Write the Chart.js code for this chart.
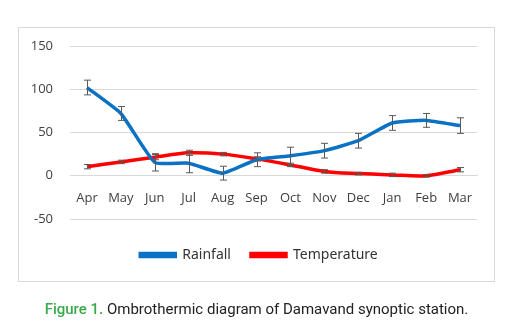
<!DOCTYPE html>
<html>
<head>
<meta charset="utf-8">
<script src="https://cdn.jsdelivr.net/npm/chart.js@4"></script>
<style>
  body { margin: 0; background: #fff; width: 529px; height: 336px; position: relative; overflow: hidden; }
  #myChart { position: absolute; left: 19px; top: 28px; }
  #box { position: absolute; left: 18px; top: 27px; width: 475px; height: 253px; border: 1px solid #d9d9d9; }
  #caption { position: absolute; left: 0; top: 300px; width: 513px; text-align: center;
             font: 15px Roboto, sans-serif; color: #222; line-height: 18px; }
  #caption b { color: #3aaa4a; font-weight: 500; }
</style>
</head>
<body>
<canvas id="myChart" width="475" height="280"></canvas>
<div id="box"></div>
<div id="caption"><b>Figure 1.</b> Ombrothermic diagram of Damavand synoptic station.</div>
<script>
  var Months = ['Apr', 'May', 'Jun', 'Jul', 'Aug', 'Sep', 'Oct', 'Nov', 'Dec', 'Jan', 'Feb', 'Mar'];
  var Rainfall = [102, 72, 15.5, 14.5, 3, 18.5, 23, 29, 40.5, 61, 64, 58];
  var RainErr = [8.5, 8, 10, 11, 8, 8, 10, 8.5, 8.5, 8.5, 8, 9];
  var Temperature = [10.5, 16, 21.5, 26.5, 25, 19.5, 12.5, 5, 2.5, 1, 0, 7];
  var TempErr = [2.5, 2, 3, 3, 2, 2.5, 2, 2, 1.5, 2, 1.5, 2.5];

  // excel style error bars, drawn through the scales
  var errorBars = {
    id: 'errorBars',
    afterDatasetsDraw: function (chart) {
      var ctx = chart.ctx;
      var xs = chart.scales.x, ys = chart.scales.y;
      ctx.save();
      ctx.strokeStyle = '#595959';
      ctx.lineWidth = 1;
      chart.data.datasets.forEach(function (ds) {
        ds.data.forEach(function (v, i) {
          var x = Math.round(xs.getPixelForValue(i)) + 0.5;
          var top = ys.getPixelForValue(v + ds.err[i]);
          var bot = ys.getPixelForValue(v - ds.err[i]);
          ctx.beginPath();
          ctx.moveTo(x, top); ctx.lineTo(x, bot);
          ctx.moveTo(x - 3.5, top); ctx.lineTo(x + 3.5, top);
          ctx.moveTo(x - 3.5, bot); ctx.lineTo(x + 3.5, bot);
          ctx.stroke();
        });
      });
      ctx.restore();
    }
  };

  // nudge the legend a bit right, like the excel one
  var legendShift = {
    id: 'legendShift',
    afterLayout: function (chart) {
      chart.legend.left += 11;
      chart.legend.right += 11;
    }
  };

  var lineChart = new Chart('myChart', {
    type: 'line',
    data: {
      labels: Months,
      datasets: [{
        label: 'Rainfall',
        data: Rainfall,
        err: RainErr,
        borderColor: '#0a72c4',
        backgroundColor: '#0a72c4',
        borderWidth: 3.5,
        pointRadius: 0,
        tension: 0.15
      }, {
        label: 'Temperature',
        data: Temperature,
        err: TempErr,
        borderColor: '#ff0000',
        backgroundColor: '#ff0000',
        borderWidth: 3.5,
        pointRadius: 0,
        tension: 0.3
      }]
    },
    options: {
      responsive: false,
      animation: false,
      layout: { padding: { top: 18, right: 17, bottom: 36, left: 0 } },
      plugins: {
        tooltip: { enabled: false },
        legend: {
          position: 'bottom',
          labels: {
            boxWidth: 35,
            boxHeight: 3,
            padding: 20,
            color: '#333',
            font: { family: 'Noto Sans', size: 14 }
          }
        }
      },
      scales: {
        x: {
          position: { y: 0 },
          offset: true,
          grid: { display: false },
          border: { display: true, color: '#d9d9d9' },
          ticks: { color: '#404040', padding: 7, maxRotation: 0, autoSkip: false,
                   font: { family: 'Open Sans', size: 13 } }
        },
        gap: {
          type: 'category',
          position: 'bottom',
          labels: Months,
          ticks: { display: false },
          grid: { display: false, drawTicks: false },
          border: { display: false },
          afterFit: function (s) { s.height = 9; }
        },
        y: {
          min: -50,
          max: 150,
          ticks: { stepSize: 50, color: '#404040', padding: 17,
                   font: { family: 'Open Sans', size: 13 } },
          grid: { color: '#d9d9d9', drawTicks: false },
          border: { display: false },
          afterFit: function (s) { s.width = 51; s.paddingTop = 0; s.paddingBottom = 0; }
        }
      }
    },
    plugins: [errorBars, legendShift]
  });
</script>
</body>
</html>
